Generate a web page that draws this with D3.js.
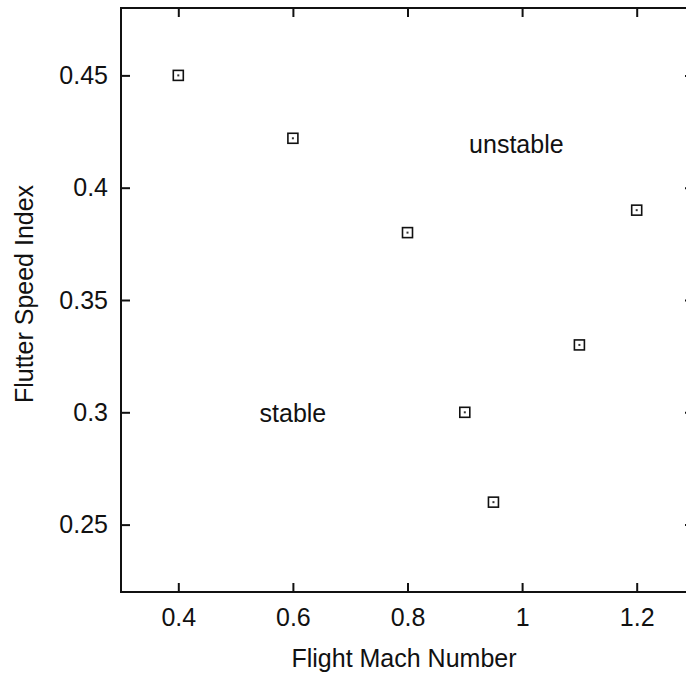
<!DOCTYPE html>
<html lang="en">
  <head>
    <title>flutter</title>
    <meta charset="utf-8">
    <style>
      body { margin: 0; background: #fff; }
      text { font-family: "Liberation Sans", Arial, sans-serif; fill: #111; }
    </style>
  </head>
  <body>
<svg width="686" height="676"></svg>
<script src="https://d3js.org/d3.v7.min.js"></script>
<script>

var mach = [0.4, 0.6, 0.8, 0.9, 0.95, 1.1, 1.2];
var fsi = [0.45, 0.422, 0.38, 0.30, 0.26, 0.33, 0.39];
var xTicks = [0.4, 0.6, 0.8, 1, 1.2];
var yTicks = [0.25, 0.3, 0.35, 0.4, 0.45];
var notes = ["unstable", "stable"];
var noteX = [0.99, 0.6];
var noteY = [0.4155, 0.2957];

// note: "top" is taken by window.top, so plot edges get their own names
var svg = d3.select("svg"),
    plotL = 121, plotR = 694, plotT = 8, plotB = 592, tick = 9, fs = 25;

var x = d3.scaleLinear().domain([0.3, 1.3]).range([plotL, plotR]);
var y = d3.scaleLinear().domain([0.22, 0.48]).range([plotB, plotT]);
var fmt = function(d) { return String(d); };

// frame
svg.append("rect")
    .attr("x", plotL).attr("y", plotT)
    .attr("width", plotR - plotL).attr("height", plotB - plotT)
    .attr("fill", "none").attr("stroke", "#111").attr("stroke-width", 2);

// axes, ticks pointing inward on all sides
function styleAxis(g) {
  g.select(".domain").remove();
  g.selectAll(".tick line").attr("stroke", "#111").attr("stroke-width", 2);
  g.selectAll(".tick text").attr("font-size", fs).attr("fill", "#111")
      .attr("font-family", "Liberation Sans, Arial, sans-serif");
}

svg.append("g").attr("transform", "translate(0," + plotB + ")")
    .call(d3.axisBottom(x).tickValues(xTicks).tickFormat(fmt).tickSizeInner(-tick).tickSizeOuter(0).tickPadding(16))
    .call(styleAxis);
svg.append("g").attr("transform", "translate(0," + plotT + ")")
    .call(d3.axisTop(x).tickValues(xTicks).tickFormat("").tickSizeInner(-tick).tickSizeOuter(0))
    .call(styleAxis);
svg.append("g").attr("transform", "translate(" + plotL + ",0)")
    .call(d3.axisLeft(y).tickValues(yTicks).tickFormat(fmt).tickSizeInner(-tick).tickSizeOuter(0).tickPadding(13))
    .call(styleAxis);
svg.append("g").attr("transform", "translate(" + plotR + ",0)")
    .call(d3.axisRight(y).tickValues(yTicks).tickFormat("").tickSizeInner(-tick).tickSizeOuter(0))
    .call(styleAxis);

// axis titles
svg.append("text")
    .attr("x", 404).attr("y", 667)
    .attr("text-anchor", "middle").attr("font-size", fs)
    .text("Flight Mach Number");
svg.append("text")
    .attr("transform", "translate(33,294) rotate(-90)")
    .attr("text-anchor", "middle").attr("font-size", fs)
    .text("Flutter Speed Index");

// points: open square with a centre dot
var pts = svg.append("g").selectAll("g")
    .data(mach.map(function(m, i) { return {m: m, v: fsi[i]}; }))
  .enter().append("g")
    .attr("transform", function(d) { return "translate(" + x(d.m) + "," + y(d.v) + ")"; });
pts.append("rect")
    .attr("x", -5).attr("y", -5).attr("width", 10).attr("height", 10)
    .attr("fill", "none").attr("stroke", "#111").attr("stroke-width", 1.6);
pts.append("rect")
    .attr("x", -1).attr("y", -1).attr("width", 2).attr("height", 2)
    .attr("fill", "#333");

// region labels
svg.append("g").selectAll("text")
    .data(notes)
  .enter().append("text")
    .attr("x", function(d, i) { return x(noteX[i]); })
    .attr("y", function(d, i) { return y(noteY[i]); })
    .attr("text-anchor", "middle").attr("font-size", fs)
    .text(function(d) { return d; });

</script>
  </body>
</html>
